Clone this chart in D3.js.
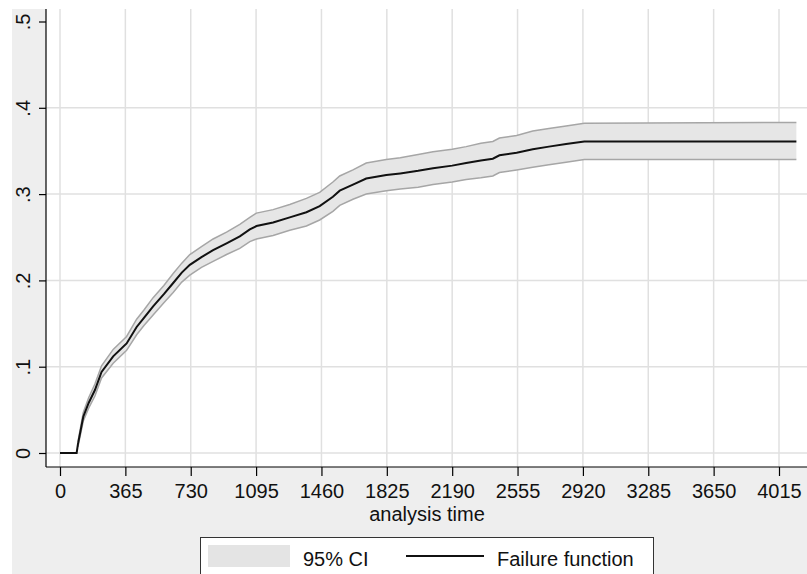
<!DOCTYPE html>
<html><head><meta charset="utf-8">
<script src="https://cdn.jsdelivr.net/npm/d3@7"></script>
<style>html,body{margin:0;padding:0;background:#fff;}svg{display:block;}</style>
</head><body>
<script>
// ---- data ----
const times   = [0,93,100,130,160,195,232,297,372,428,470,520,580,632,680,725,790,855,930,1004,1060,1097,1190,1283,1376,1450,1524,1562,1636,1710,1822,1900,2000,2083,2190,2268,2350,2417,2454,2550,2640,2730,2826,2928,4112];
const failure = [0,0,0.010,0.042,0.058,0.073,0.094,0.112,0.127,0.146,0.157,0.170,0.184,0.197,0.209,0.218,0.227,0.235,0.243,0.251,0.259,0.263,0.267,0.273,0.279,0.286,0.297,0.304,0.311,0.318,0.322,0.324,0.327,0.330,0.333,0.336,0.339,0.341,0.345,0.348,0.352,0.355,0.358,0.361,0.361];
const lower   = [null,null,0.007,0.037,0.052,0.066,0.087,0.104,0.119,0.137,0.148,0.160,0.174,0.186,0.198,0.206,0.215,0.222,0.230,0.237,0.245,0.248,0.252,0.258,0.263,0.270,0.280,0.287,0.294,0.300,0.304,0.306,0.308,0.311,0.314,0.317,0.319,0.321,0.325,0.328,0.331,0.334,0.337,0.340,0.340];
const upper   = [null,null,0.013,0.047,0.064,0.080,0.101,0.120,0.135,0.155,0.166,0.180,0.194,0.208,0.220,0.230,0.239,0.248,0.256,0.265,0.273,0.278,0.282,0.288,0.295,0.302,0.314,0.321,0.328,0.336,0.340,0.342,0.346,0.349,0.352,0.355,0.359,0.361,0.365,0.368,0.373,0.376,0.379,0.382,0.383];
const xTicks = [0,365,730,1095,1460,1825,2190,2555,2920,3285,3650,4015];
const yTicks = [0,0.1,0.2,0.3,0.4,0.5];
const yTickLabels = ["0",".1",".2",".3",".4",".5"];
const yGrid = [0,0.1,0.2,0.3,0.4];
const xTitle = "analysis time";
const legendLabels = ["95% CI","Failure function"];

const W = 807, H = 574;
const svg = d3.select("body").append("svg").attr("width", W).attr("height", H);
const font = "'Liberation Sans', Arial, sans-serif";

// graph background
svg.append("rect").attr("x",12).attr("y",9).attr("width",W-12).attr("height",H-9).attr("fill","#eeeeee");
// plot region
const plotL = 46, plotT = 9, plotR = 808, plotB = 467;
svg.append("rect").attr("x",plotL).attr("y",plotT).attr("width",plotR-plotL).attr("height",plotB-plotT).attr("fill","#ffffff");

const x = d3.scaleLinear().domain([0,4015]).range([60,779]);
const y = d3.scaleLinear().domain([0,0.5]).range([453,21.5]);

// grid
const grid = svg.append("g");
grid.selectAll("line.v").data(xTicks).join("line")
  .attr("x1",d=>x(d)).attr("x2",d=>x(d)).attr("y1",plotT).attr("y2",plotB)
  .attr("stroke","#e0e0e0").attr("stroke-width",1.5);
grid.selectAll("line.h").data(yGrid).join("line")
  .attr("x1",plotL).attr("x2",plotR).attr("y1",d=>y(d)).attr("y2",d=>y(d))
  .attr("stroke","#e0e0e0").attr("stroke-width",1.5);

// CI band
const pts = times.map((t,i)=>({t, f:failure[i], lo:lower[i], hi:upper[i]}));
const ci = pts.filter(d=>d.lo!==null);
svg.append("path").datum(ci)
  .attr("d", d3.area().x(d=>x(d.t)).y0(d=>y(d.lo)).y1(d=>y(d.hi)))
  .attr("fill","#e6e6e6");
svg.append("path").datum(ci)
  .attr("d", d3.line().x(d=>x(d.t)).y(d=>y(d.hi)))
  .attr("fill","none").attr("stroke","#a6a6a6").attr("stroke-width",1.5);
svg.append("path").datum(ci)
  .attr("d", d3.line().x(d=>x(d.t)).y(d=>y(d.lo)))
  .attr("fill","none").attr("stroke","#a6a6a6").attr("stroke-width",1.5);
// failure line
svg.append("path").datum(pts)
  .attr("d", d3.line().x(d=>x(d.t)).y(d=>y(d.f)))
  .attr("fill","none").attr("stroke","#111").attr("stroke-width",2);

// axes
const xAxis = svg.append("g").attr("transform",`translate(0,${plotB})`)
  .call(d3.axisBottom(x).tickValues(xTicks).tickSize(9).tickPadding(8).tickFormat(d3.format("d")));
xAxis.select(".domain").attr("d",`M${plotL},0H${plotR}`).attr("stroke","#000").attr("stroke-width",1.2);
xAxis.selectAll(".tick line").attr("stroke","#000").attr("stroke-width",1.2);
xAxis.selectAll(".tick text").attr("font-family",font).attr("font-size",20).attr("fill","#111");

const yAxis = svg.append("g").attr("transform",`translate(${plotL},0)`)
  .call(d3.axisLeft(y).tickValues(yTicks).tickSize(7).tickFormat((d,i)=>yTickLabels[i]));
yAxis.select(".domain").attr("d",`M0,${plotT}V${plotB}`).attr("stroke","#000").attr("stroke-width",1.2);
yAxis.selectAll(".tick line").attr("stroke","#000").attr("stroke-width",1.2);
yAxis.selectAll(".tick text")
  .attr("font-family",font).attr("font-size",20).attr("fill","#111")
  .attr("x",null).attr("dy",null)
  .attr("text-anchor","middle")
  .attr("transform","translate(-16,0) rotate(-90)");

// x title
svg.append("text").attr("x",(plotL+plotR)/2).attr("y",521).attr("text-anchor","middle")
  .attr("font-family",font).attr("font-size",20).attr("fill","#111").text(xTitle);

// legend
const lg = svg.append("g");
lg.append("rect").attr("x",200.5).attr("y",537.5).attr("width",453).attr("height",50)
  .attr("fill","#fff").attr("stroke","#333").attr("stroke-width",1);
lg.append("rect").attr("x",208).attr("y",545).attr("width",82).attr("height",22).attr("fill","#e4e4e4");
lg.append("text").attr("x",303).attr("y",566).attr("font-family",font).attr("font-size",20).attr("fill","#111").text(legendLabels[0]);
lg.append("line").attr("x1",406).attr("x2",484).attr("y1",556).attr("y2",556).attr("stroke","#111").attr("stroke-width",2);
lg.append("text").attr("x",497).attr("y",566).attr("font-family",font).attr("font-size",20).attr("fill","#111").text(legendLabels[1]);
</script>
</body></html>
